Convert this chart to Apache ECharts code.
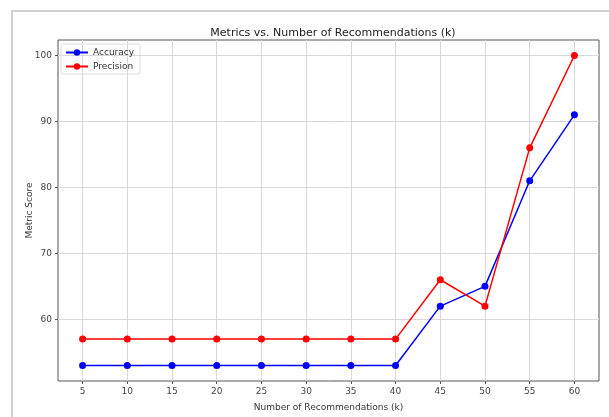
<!DOCTYPE html>
<html>
<head>
<meta charset="utf-8">
<script src="https://cdn.jsdelivr.net/npm/echarts@6/dist/echarts.min.js"></script>
<style>
html, body { margin: 0; padding: 0; background: #fff; }
#chart { width: 609px; height: 417px; }
</style>
</head>
<body>
<div id="chart"></div>
<script>
// k values on the x axis
var kValues = [5, 10, 15, 20, 25, 30, 35, 40, 45, 50, 55, 60];
var accuracy = [53, 53, 53, 53, 53, 53, 53, 53, 62, 65, 81, 91];
var precision = [57, 57, 57, 57, 57, 57, 57, 57, 66, 62, 86, 100];
var yTicks = [60, 70, 80, 90, 100];

function pairs(xs, ys) {
	var out = [];
	for (var i = 0; i < xs.length; i++) {
		out.push([xs[i], ys[i]]);
	}
	return out;
}

var font = 'DejaVu Sans';

var option = {
	animation: false,
	backgroundColor: '#fff',
	title: {
		text: 'Metrics vs. Number of Recommendations (k)',
		left: 328,
		textAlign: 'center',
		top: 23,
		textStyle: { fontFamily: font, fontSize: 11, fontWeight: 'normal', color: '#222' }
	},
	legend: {
		orient: 'vertical',
		left: 61,
		top: 44,
		itemWidth: 22,
		itemHeight: 8,
		itemGap: 5,
		padding: [4, 6, 3, 4],
		borderColor: '#ddd',
		borderWidth: 1,
		borderRadius: 2,
		textStyle: { fontFamily: font, fontSize: 9, color: '#333' },
		data: ['Accuracy', 'Precision']
	},
	graphic: [{
		type: 'rect',
		shape: { x: 12, y: 11, width: 700, height: 500 },
		style: { fill: 'none', stroke: '#d0d0d0', lineWidth: 2 },
		silent: true,
		z: -1
	}],
	grid: {
		left: 58,
		right: 10,
		top: 40,
		bottom: 33,
		show: true,
		borderColor: '#555',
		borderWidth: 1
	},
	xAxis: {
		type: 'value',
		min: 2.25,
		max: 62.75,
		name: 'Number of Recommendations (k)',
		nameLocation: 'middle',
		nameGap: 22,
		nameMoveOverlap: false,
		nameTextStyle: { fontFamily: font, fontSize: 9, color: '#333' },
		axisLine: { show: false },
		axisTick: { show: true, customValues: kValues, length: 3, lineStyle: { color: '#555' } },
		axisLabel: { customValues: kValues, fontFamily: font, fontSize: 9, color: '#444', margin: 6 },
		splitLine: { show: true, lineStyle: { color: '#d8d8d8', width: 1 } }
	},
	yAxis: {
		type: 'value',
		min: 50.65,
		max: 102.35,
		name: 'Metric Score',
		nameLocation: 'middle',
		nameGap: 24,
		nameMoveOverlap: false,
		nameTextStyle: { fontFamily: font, fontSize: 9, color: '#333' },
		axisLine: { show: false },
		axisTick: { show: true, customValues: yTicks, length: 3, lineStyle: { color: '#555' } },
		axisLabel: { customValues: yTicks, fontFamily: font, fontSize: 9, color: '#444', margin: 6 },
		splitLine: { show: true, lineStyle: { color: '#d8d8d8', width: 1 } }
	},
	series: [{
		name: 'Accuracy',
		type: 'line',
		data: pairs(kValues, accuracy),
		color: '#0000ff',
		symbol: 'circle',
		symbolSize: 7,
		lineStyle: { width: 1.5 }
	}, {
		name: 'Precision',
		type: 'line',
		data: pairs(kValues, precision),
		color: '#ff0000',
		symbol: 'circle',
		symbolSize: 7,
		lineStyle: { width: 1.5 }
	}]
};

echarts.init(document.getElementById('chart')).setOption(option);
</script>
</body>
</html>
